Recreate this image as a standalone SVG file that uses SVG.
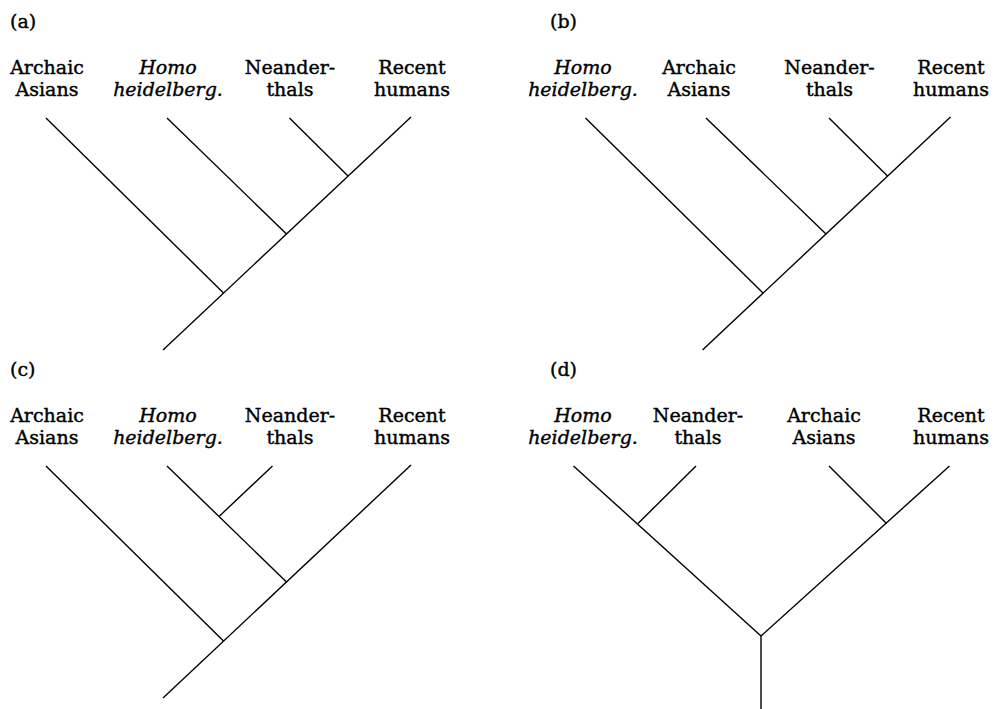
<svg xmlns="http://www.w3.org/2000/svg" width="994" height="709" viewBox="0 0 994 709">
<style>
text{font-family:"DejaVu Serif","Liberation Serif",serif;font-size:19px;fill:#000;stroke:#000;stroke-width:0.4;text-anchor:middle}
.it{font-style:italic}
.pl{text-anchor:start}
line{stroke:#000;stroke-width:1.4;stroke-linecap:butt}
</style>
<rect width="994" height="709" fill="#fff"/>
<g id="panel-a">
<text class="pl" x="10" y="28">(a)</text>
<g id="a-archaic"><text x="47" y="74">Archaic</text><text x="47" y="96">Asians</text></g>
<g id="a-homo"><text class="it" x="168" y="74">Homo</text><text class="it" x="168" y="96">heidelberg.</text></g>
<g id="a-neander"><text x="290" y="74">Neander-</text><text x="290" y="96">thals</text></g>
<g id="a-recent"><text x="412" y="74">Recent</text><text x="412" y="96">humans</text></g>
<g id="a-connectors">
<line x1="46" y1="118" x2="223.5" y2="293"/>
<line x1="167" y1="118" x2="286.5" y2="234"/>
<line x1="289.5" y1="118" x2="348" y2="176"/>
<line x1="411" y1="117" x2="163" y2="350"/>
</g>
</g>
<g id="panel-b">
<text class="pl" x="550" y="28">(b)</text>
<g id="b-homo"><text class="it" x="583" y="74">Homo</text><text class="it" x="583" y="96">heidelberg.</text></g>
<g id="b-archaic"><text x="699" y="74">Archaic</text><text x="699" y="96">Asians</text></g>
<g id="b-neander"><text x="829.5" y="74">Neander-</text><text x="829.5" y="96">thals</text></g>
<g id="b-recent"><text x="951" y="74">Recent</text><text x="951" y="96">humans</text></g>
<g id="b-connectors">
<line x1="585.5" y1="118" x2="763" y2="293"/>
<line x1="706" y1="118" x2="826" y2="234"/>
<line x1="829" y1="118" x2="887.5" y2="176"/>
<line x1="950.5" y1="117" x2="702.5" y2="350"/>
</g>
</g>
<g id="panel-c">
<text class="pl" x="10" y="376">(c)</text>
<g id="c-archaic"><text x="47" y="422">Archaic</text><text x="47" y="444">Asians</text></g>
<g id="c-homo"><text class="it" x="168" y="422">Homo</text><text class="it" x="168" y="444">heidelberg.</text></g>
<g id="c-neander"><text x="290" y="422">Neander-</text><text x="290" y="444">thals</text></g>
<g id="c-recent"><text x="412" y="422">Recent</text><text x="412" y="444">humans</text></g>
<g id="c-connectors">
<line x1="46" y1="466" x2="223.5" y2="641"/>
<line x1="167" y1="466" x2="286.5" y2="582"/>
<line x1="272.5" y1="466" x2="219.5" y2="516"/>
<line x1="411" y1="465" x2="163" y2="698"/>
</g>
</g>
<g id="panel-d">
<text class="pl" x="550" y="376">(d)</text>
<g id="d-homo"><text class="it" x="583" y="422">Homo</text><text class="it" x="583" y="444">heidelberg.</text></g>
<g id="d-neander"><text x="698" y="422">Neander-</text><text x="698" y="444">thals</text></g>
<g id="d-archaic"><text x="824" y="422">Archaic</text><text x="824" y="444">Asians</text></g>
<g id="d-recent"><text x="951" y="422">Recent</text><text x="951" y="444">humans</text></g>
<g id="d-connectors">
<line x1="573.5" y1="466" x2="761" y2="636"/>
<line x1="696" y1="466" x2="638" y2="523.5"/>
<line x1="829" y1="466" x2="886.5" y2="523.5"/>
<line x1="949.5" y1="466" x2="761" y2="636"/>
<line x1="761" y1="636" x2="761" y2="709"/>
</g>
</g>
</svg>
